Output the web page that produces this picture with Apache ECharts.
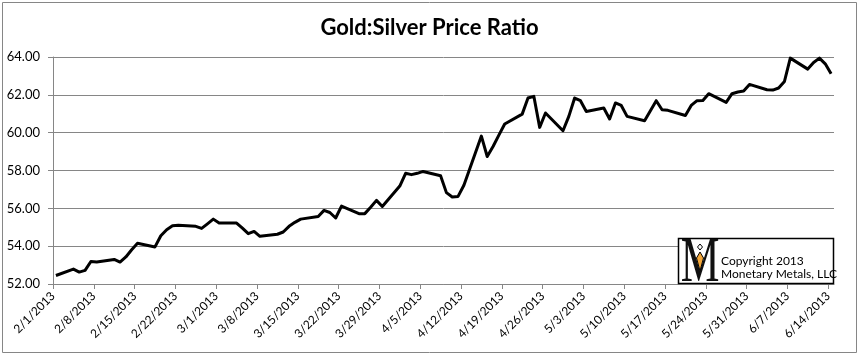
<!DOCTYPE html>
<html>
<head>
<meta charset="utf-8">
<script src="https://cdn.jsdelivr.net/npm/echarts@6/dist/echarts.min.js"></script>
<style>
html,body{margin:0;padding:0;background:#fff;}
#chart{width:859px;height:355px;}
</style>
</head>
<body>
<div id="chart"></div>
<script>
// ---- data ----
const dates = [
 '2/1','2/4','2/5','2/6','2/7','2/8','2/11','2/12','2/13','2/14','2/15',
 '2/18','2/19','2/20','2/21','2/22','2/25','2/26','2/27','2/28','3/1',
 '3/4','3/5','3/6','3/7','3/8','3/11','3/12','3/13','3/14','3/15',
 '3/18','3/19','3/20','3/21','3/22','3/25','3/26','3/27','3/28','3/29',
 '4/1','4/2','4/3','4/4','4/5','4/8','4/9','4/10','4/11','4/12',
 '4/15','4/16','4/17','4/18','4/19','4/22','4/23','4/24','4/25','4/26',
 '4/29','4/30','5/1','5/2','5/3','5/6','5/7','5/8','5/9','5/10',
 '5/13','5/14','5/15','5/16','5/17','5/20','5/21','5/22','5/23','5/24',
 '5/27','5/28','5/29','5/30','5/31','6/3','6/4','6/5','6/6','6/7',
 '6/10','6/11','6/12','6/13','6/14'
];
const ratio = [
 52.45,52.79,52.63,52.72,53.19,53.16,53.30,53.16,53.43,53.81,54.15,
 53.96,54.55,54.87,55.08,55.10,55.05,54.94,55.18,55.43,55.22,
 55.22,54.95,54.66,54.78,54.52,54.63,54.75,55.05,55.26,55.43,
 55.57,55.89,55.78,55.49,56.12,55.72,55.72,56.06,56.42,56.10,
 57.18,57.85,57.78,57.85,57.95,57.72,56.83,56.60,56.63,57.22,
 59.82,58.74,59.27,59.87,60.46,60.98,61.83,61.92,60.28,61.04,
 60.10,60.86,61.83,61.69,61.12,61.30,60.72,61.57,61.44,60.86,
 60.63,61.16,61.69,61.21,61.18,60.91,61.44,61.69,61.70,62.06,
 61.60,62.06,62.15,62.20,62.55,62.27,62.25,62.36,62.71,63.94,
 63.36,63.71,63.94,63.64,63.12
];
const xTickLabels = [
 '2/1/2013','2/8/2013','2/15/2013','2/22/2013','3/1/2013','3/8/2013',
 '3/15/2013','3/22/2013','3/29/2013','4/5/2013','4/12/2013','4/19/2013',
 '4/26/2013','5/3/2013','5/10/2013','5/17/2013','5/24/2013','5/31/2013',
 '6/7/2013','6/14/2013'
];
const titleText = 'Gold:Silver Price Ratio';
const copyrightLines = ['Copyright 2013', 'Monetary Metals, LLC'];

// ---- helpers ----
const DAY = 86400000;
const origin = Date.UTC(2013, 1, 1);
function dayOf(s) {
  const p = s.split('/').map(Number);
  return Math.round((Date.UTC(2013, p[0] - 1, p[1]) - origin) / DAY);
}
const tickVals = xTickLabels.map(dayOf);
const labelMap = {};
tickVals.forEach((v, i) => { labelMap[v] = xTickLabels[i]; });
const seriesData = dates.map((d, i) => [dayOf(d) + 0.5, ratio[i]]);

const FONT = 'Lato, "Open Sans", sans-serif';
const GRAY = '#868686';

const chart = echarts.init(document.getElementById('chart'), null, {renderer: 'canvas'});
chart.setOption({
  animation: false,
  backgroundColor: '#fff',
  title: {
    text: titleText,
    left: 'center',
    top: 12,
    textStyle: {fontFamily: FONT, fontSize: 22, fontWeight: 'bold', color: '#000'}
  },
  grid: {left: 53, right: 25, top: 57, bottom: 71, containLabel: false},
  xAxis: {
    type: 'value',
    min: 0,
    max: 134,
    splitLine: {show: false},
    axisLine: {show: true, lineStyle: {color: GRAY, width: 1}},
    axisTick: {show: true, customValues: tickVals, length: 5, lineStyle: {color: GRAY}},
    axisLabel: {
      customValues: tickVals,
      rotate: 45,
      margin: 10,
      fontFamily: FONT,
      fontSize: 12,
      color: '#000',
      formatter: v => labelMap[Math.round(v)] || ''
    }
  },
  yAxis: {
    type: 'value',
    min: 52,
    max: 64,
    interval: 2,
    axisLine: {show: true, lineStyle: {color: GRAY, width: 1}},
    axisTick: {show: true, length: 5, lineStyle: {color: GRAY}},
    splitLine: {show: true, lineStyle: {color: GRAY, width: 1}},
    axisLabel: {
      margin: 13,
      fontFamily: FONT,
      fontSize: 13,
      color: '#000',
      formatter: v => v.toFixed(2)
    }
  },
  series: [{
    type: 'line',
    data: seriesData,
    showSymbol: false,
    smooth: false,
    lineStyle: {color: '#000', width: 3, join: 'round'},
    z: 5
  }],
  graphic: [
    {type: 'rect', shape: {x: 2.5, y: 2.5, width: 854, height: 350},
     style: {fill: null, stroke: GRAY, lineWidth: 1}, silent: true, z: 0},
    {type: 'rect', shape: {x: 678.5, y: 238.5, width: 155, height: 45},
     style: {fill: '#fff', stroke: '#000', lineWidth: 1.5}, z: 100},
    {type: 'text', x: 700, y: 264, scaleX: 0.68, scaleY: 1, z: 101,
     style: {text: 'M', font: '64px "Liberation Serif", "DejaVu Serif", serif',
             fill: '#111', textAlign: 'center', textVerticalAlign: 'middle'}},
    {type: 'polygon', z: 102,
     shape: {points: [[700, 244], [702.5, 247], [700, 250], [697.5, 247]]},
     style: {fill: '#fff', stroke: '#000', lineWidth: 1}},
    {type: 'polygon', z: 102,
     shape: {points: [[700, 252], [703.5, 258], [700, 271], [696.5, 258]]},
     style: {fill: '#f5a83a', stroke: '#000', lineWidth: 1}},
    {type: 'text', x: 721, y: 261, z: 101,
     style: {text: copyrightLines[0], font: '12px ' + FONT, fill: '#000',
             textAlign: 'left', textVerticalAlign: 'middle'}},
    {type: 'text', x: 721, y: 274, z: 101,
     style: {text: copyrightLines[1], font: '12px ' + FONT, fill: '#000',
             textAlign: 'left', textVerticalAlign: 'middle'}}
  ]
});
</script>
</body>
</html>
